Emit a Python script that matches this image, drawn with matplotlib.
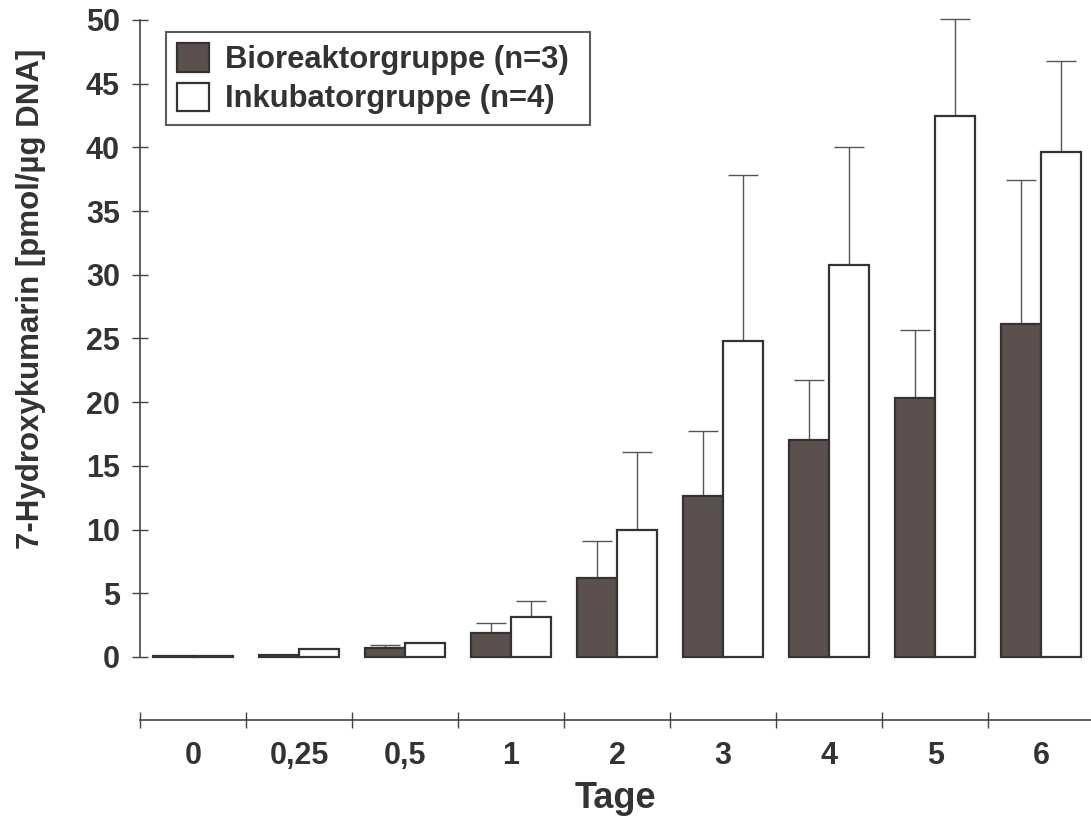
import matplotlib.pyplot as plt
import numpy as np

# Werte
tage = ["0", "0,25", "0,5", "1", "2", "3", "4", "5", "6"]
bioreaktor = [0.05, 0.15, 0.7, 1.85, 6.2, 12.6, 17.0, 20.3, 26.1]
bioreaktor_sd = [0.0, 0.0, 0.2, 0.85, 2.9, 5.1, 4.7, 5.4, 11.3]
inkubator = [0.05, 0.6, 1.1, 3.1, 10.0, 24.8, 30.8, 42.5, 39.6]
inkubator_sd = [0.0, 0.0, 0.0, 1.3, 6.1, 13.0, 9.2, 7.6, 7.2]

plt.rcParams["font.family"] = ["Liberation Sans", "DejaVu Sans"]
plt.rcParams["font.weight"] = "bold"
TEXT = "#333333"

fig = plt.figure(figsize=(10.91, 8.23), dpi=100)
ax = fig.add_axes([0.1283, 0.1252, 0.8717, 0.8567])

x = np.arange(len(tage))
w = 0.377

ax.bar(x - w / 2, bioreaktor, w, color="#5b504d", edgecolor="#333333",
       linewidth=1.6, label="Bioreaktorgruppe (n=3)", zorder=3)
ax.bar(x + w / 2, inkubator, w, color="white", edgecolor="#333333",
       linewidth=1.6, label="Inkubatorgruppe (n=4)", zorder=3)

# Fehlerbalken nur nach oben
ax.errorbar(x - w / 2, bioreaktor, yerr=[np.zeros(len(x)), bioreaktor_sd],
            fmt="none", ecolor="#555555", elinewidth=1, capsize=11,
            capthick=1, zorder=2)
ax.errorbar(x + w / 2, inkubator, yerr=[np.zeros(len(x)), inkubator_sd],
            fmt="none", ecolor="#555555", elinewidth=1, capsize=11,
            capthick=1, zorder=2)

ax.set_xlim(-0.5, 8.47)
ax.set_ylim(-4.95, 50.4)

for s in ["top", "right"]:
    ax.spines[s].set_visible(False)
ax.spines["left"].set_bounds(0, 50)
ax.spines["left"].set_color("#444444")
ax.spines["bottom"].set_color("#444444")
ax.spines["left"].set_linewidth(1.2)
ax.spines["bottom"].set_linewidth(1.2)

ax.set_yticks(np.arange(0, 51, 5))
ax.tick_params(axis="y", direction="inout", length=11, width=1,
               color="#444444", labelsize=22, labelcolor=TEXT, pad=9)

ax.set_xticks(x)
ax.set_xticklabels(tage)
ax.set_xticks(np.arange(-0.5, 8, 1), minor=True)
ax.tick_params(axis="x", which="major", length=0, labelsize=22,
               labelcolor=TEXT, pad=15)
ax.tick_params(axis="x", which="minor", direction="inout", length=11,
               width=1, color="#444444")

ax.set_ylabel("7-Hydroxykumarin [pmol/µg DNA]", fontsize=22.5,
              fontweight="bold", color=TEXT)
ax.yaxis.set_label_coords(-0.0989, 0.597)
ax.set_xlabel("Tage", fontsize=26, fontweight="bold", color=TEXT, labelpad=7)

leg = ax.legend(loc="upper left", bbox_to_anchor=(0.0273, 0.8757, 0.4459, 0.1),
                mode="expand", fontsize=22.3, frameon=True, fancybox=False,
                handlelength=1.05, handleheight=1.05, handletextpad=0.5,
                borderpad=0.35, labelspacing=0.25, borderaxespad=0)
leg.get_frame().set_edgecolor("#333333")
leg.get_frame().set_linewidth(1.5)
for t in leg.get_texts():
    t.set_color(TEXT)

plt.savefig("out.png", dpi=100)
